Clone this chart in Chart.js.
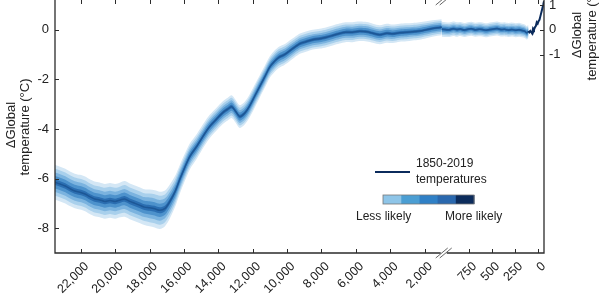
<!DOCTYPE html>
<html>
<head>
<meta charset="utf-8">
<script src="https://cdn.jsdelivr.net/npm/chart.js@4.4.0/dist/chart.umd.min.js"></script>
<style>
  html, body { margin: 0; padding: 0; background: #fff; }
  #wrap { width: 600px; height: 300px; }
</style>
</head>
<body>
<div id="wrap"><canvas id="tempChart" width="600" height="300"></canvas></div>
<script>
'use strict';

// reconstruction, 23,500 -> 1,000 years BP
const glacialYears = [23500, 23200, 22900, 22600, 22350, 22050, 21750, 21500, 21200, 20900,
  20600, 20300, 20000, 19700, 19450, 19150, 18850, 18550, 18300, 18000,
  17700, 17400, 17100, 16800, 16500, 16250, 15950, 15650, 15250, 14800,
  14500, 14100, 13750, 13450, 13220, 13000, 12750, 12450, 12200, 11900,
  11600, 11300, 11000, 10700, 10450, 10150, 9850, 9550, 9250, 8900,
  8500, 8100, 7700, 7300, 6950, 6600, 6200, 5800, 5350, 5000,
  4600, 4200, 3850, 3450, 3050, 2700, 2300, 1900, 1550, 1250, 1000];
const glacialTemps = [-6.15, -6.22, -6.30, -6.42, -6.50, -6.55, -6.62, -6.72, -6.82, -6.86,
  -6.92, -6.88, -6.92, -6.86, -6.82, -6.92, -7.00, -7.08, -7.15, -7.18,
  -7.22, -7.28, -7.20, -6.90, -6.50, -6.05, -5.55, -5.10, -4.70, -4.20,
  -3.90, -3.60, -3.35, -3.20, -3.10, -3.28, -3.50, -3.35, -3.10, -2.70,
  -2.30, -1.90, -1.50, -1.25, -1.10, -1.00, -0.85, -0.70, -0.56, -0.48,
  -0.40, -0.36, -0.30, -0.22, -0.15, -0.10, -0.10, -0.06, -0.08, -0.14,
  -0.20, -0.14, -0.16, -0.12, -0.10, -0.08, -0.05, 0.00, 0.05, 0.08, 0.10];
const glacialSpread = [0.70, 0.70, 0.70, 0.70, 0.70, 0.70, 0.70, 0.70, 0.70, 0.70,
  0.70, 0.70, 0.70, 0.70, 0.72, 0.72, 0.72, 0.72, 0.72, 0.74,
  0.75, 0.75, 0.72, 0.68, 0.62, 0.58, 0.55, 0.52, 0.50, 0.48,
  0.47, 0.46, 0.46, 0.46, 0.46, 0.46, 0.46, 0.46, 0.46, 0.46,
  0.45, 0.44, 0.43, 0.43, 0.43, 0.42, 0.42, 0.41, 0.41, 0.41,
  0.40, 0.40, 0.40, 0.40, 0.40, 0.40, 0.40, 0.39, 0.39, 0.38,
  0.38, 0.38, 0.37, 0.36, 0.36, 0.35, 0.35, 0.34, 0.33, 0.32, 0.32];

// last millennium, 1,000 -> 100 years BP
const recentYears = [1000, 960, 920, 880, 840, 800, 760, 720, 680, 640,
  600, 560, 520, 480, 440, 400, 360, 320, 280, 240,
  200, 170, 140, 120, 100];
const recentTemps = [0.02, 0.00, 0.04, 0.01, 0.03, -0.01, 0.02, 0.04, 0.00, 0.02,
  0.01, -0.02, 0.01, 0.03, 0.05, 0.01, 0.02, -0.01, 0.01, -0.02,
  0.00, -0.03, -0.06, -0.12, -0.08];
const recentSpread = [0.30, 0.29, 0.29, 0.29, 0.28, 0.28, 0.28, 0.28, 0.28, 0.28,
  0.28, 0.28, 0.28, 0.28, 0.28, 0.28, 0.28, 0.28, 0.28, 0.28,
  0.28, 0.27, 0.27, 0.27, 0.27];

// 1850-2019 temperatures, years BP
const obsYears = [100, 90, 80, 70, 60, 50, 40, 30, 20, 10, 0, -10, -20, -30, -40, -50, -60, -69];
const obsTemps = [-0.05, -0.10, -0.05, -0.10, -0.15, 0.05, 0.00, 0.10, 0.15, 0.30,
  0.25, 0.35, 0.40, 0.55, 0.70, 0.85, 1.00, 1.15];

const xTickYears = [22000, 20000, 18000, 16000, 14000, 12000, 10000, 8000, 6000, 4000, 2000,
  750, 500, 250, 0];
const leftTicks = [-8, -6, -4, -2, 0];
const rightTicks = [-1, 0, 1];

const bandLevels = [1, 0.78, 0.56, 0.36, 0.16];
const bandColors = ['#d4e7f5', '#a9d0ec', '#7bb3df', '#4d92cc', '#2b6eb1'];
const scaleColors = ['#8ec5e8', '#4b9ed3', '#2f80c6', '#2a68ae', '#0c2c5c'];

const FONT = '"Liberation Sans", Arial, Helvetica, sans-serif';
const INK = '#222222';

// broken time axis: 23,500-1,000 BP on one scale, last millennium stretched
const BREAK_YR = 1000;
const toAxis = function (yr) {
  if (yr >= BREAK_YR) return (23500 - yr) * 0.0172;
  return 391 + (BREAK_YR - yr) * 0.092;
};
const BREAK_U = 389;

const datasets = [];

const addSegment = function (years, temps, spread) {
  bandLevels.forEach(function (lvl, i) {
    datasets.push({
      data: years.map((yr, j) => ({ x: toAxis(yr), y: temps[j] + lvl * spread[j] })),
      backgroundColor: bandColors[i],
      borderColor: 'rgba(0,0,0,0)',
      borderWidth: 0,
      pointRadius: 0,
      tension: 0.3,
      fill: '+1',
      order: 20 - i
    });
    datasets.push({
      data: years.map((yr, j) => ({ x: toAxis(yr), y: temps[j] - lvl * spread[j] })),
      borderColor: 'rgba(0,0,0,0)',
      borderWidth: 0,
      pointRadius: 0,
      tension: 0.3,
      fill: false,
      order: 20 - i
    });
  });
  datasets.push({
    data: years.map((yr, j) => ({ x: toAxis(yr), y: temps[j] })),
    borderColor: '#1d5796',
    borderWidth: 1.5,
    pointRadius: 0,
    tension: 0.3,
    fill: false,
    order: 5
  });
};

addSegment(glacialYears, glacialTemps, glacialSpread);
addSegment(recentYears, recentTemps, recentSpread);

datasets.push({
  data: obsYears.map((yr, j) => ({ x: toAxis(yr), y: obsTemps[j] })),
  borderColor: '#0b2b5c',
  borderWidth: 2,
  pointRadius: 0,
  tension: 0,
  fill: false,
  order: 1
});

const tickLabel = {};
xTickYears.forEach(function (yr) {
  tickLabel[toAxis(yr).toFixed(3)] = yr.toLocaleString('en-US');
});

// axes box, inward ticks, break marks, titles and legend
const frame = {
  id: 'frame',
  afterDraw(chart) {
    const ctx = chart.ctx;
    const a = chart.chartArea;
    const sx = chart.scales.x, sy = chart.scales.y, sy2 = chart.scales.y2;
    const bx = sx.getPixelForValue(BREAK_U);

    ctx.save();
    ctx.strokeStyle = '#2b2b2b';
    ctx.lineWidth = 1.3;
    ctx.beginPath();
    ctx.moveTo(a.left, a.top);
    ctx.lineTo(a.left, a.bottom);
    ctx.lineTo(bx - 3, a.bottom);
    ctx.moveTo(bx + 3, a.bottom);
    ctx.lineTo(a.right, a.bottom);
    ctx.lineTo(a.right, a.top);
    ctx.stroke();

    ctx.lineWidth = 1;
    ctx.beginPath();
    xTickYears.forEach(function (yr) {
      const px = Math.round(sx.getPixelForValue(toAxis(yr))) + 0.5;
      ctx.moveTo(px, a.bottom);
      ctx.lineTo(px, a.bottom - 4);
      ctx.moveTo(px, a.top);
      ctx.lineTo(px, a.top + 4);
    });
    leftTicks.forEach(function (v) {
      const py = Math.round(sy.getPixelForValue(v)) + 0.5;
      ctx.moveTo(a.left, py);
      ctx.lineTo(a.left + 4, py);
    });
    rightTicks.forEach(function (v) {
      const py = Math.round(sy2.getPixelForValue(v)) + 0.5;
      ctx.moveTo(a.right, py);
      ctx.lineTo(a.right - 4, py);
    });
    ctx.stroke();

    // "//" break on bottom and top
    [a.bottom, a.top].forEach(function (yb) {
      ctx.beginPath();
      ctx.moveTo(bx - 8, yb + 5);
      ctx.lineTo(bx + 4, yb - 5);
      ctx.moveTo(bx - 4, yb + 5);
      ctx.lineTo(bx + 8, yb - 5);
      ctx.strokeStyle = '#555';
      ctx.lineWidth = 0.9;
      ctx.stroke();
    });

    // axis titles
    ctx.fillStyle = INK;
    ctx.font = '13px ' + FONT;
    ctx.textAlign = 'center';
    ctx.textBaseline = 'middle';
    const vtext = function (txt, x, y) {
      ctx.save();
      ctx.translate(x, y);
      ctx.rotate(-Math.PI / 2);
      ctx.fillText(txt, 0, 0);
      ctx.restore();
    };
    vtext('\u0394Global', 11, 125);
    vtext('temperature (\u00b0C)', 25, 127);
    vtext('\u0394Global', 577, 35);
    vtext('temperature (\u00b0C)', 592, 32);

    // legend
    ctx.strokeStyle = '#0b2b5c';
    ctx.lineWidth = 2;
    ctx.beginPath();
    ctx.moveTo(375, 172);
    ctx.lineTo(410, 172);
    ctx.stroke();
    ctx.font = '12px ' + FONT;
    ctx.textAlign = 'left';
    ctx.fillText('1850-2019', 416, 164);
    ctx.fillText('temperatures', 416, 180);

    const segW = 91 / scaleColors.length;
    scaleColors.forEach(function (c, i) {
      ctx.fillStyle = c;
      ctx.fillRect(383 + i * segW, 195, segW + 0.5, 9);
    });
    ctx.strokeStyle = '#777';
    ctx.lineWidth = 0.8;
    ctx.strokeRect(383, 195, 91, 9);

    ctx.fillStyle = INK;
    ctx.fillText('Less likely', 356, 217);
    ctx.fillText('More likely', 445, 217);
    ctx.restore();
  }
};

const ctx = document.getElementById('tempChart').getContext('2d');

const chart = new Chart(ctx, {
  type: 'line',
  data: { datasets: datasets },
  options: {
    responsive: false,
    animation: false,
    devicePixelRatio: 1,
    layout: { padding: 0 },
    plugins: {
      legend: { display: false },
      tooltip: { enabled: false }
    },
    scales: {
      x: {
        type: 'linear',
        position: 'bottom',
        min: 0,
        max: toAxis(-69),
        grid: { display: false, drawTicks: false },
        border: { display: false },
        afterBuildTicks: function (axis) {
          axis.ticks = xTickYears.map(yr => ({ value: toAxis(yr) }));
        },
        afterFit: function (axis) {
          axis.height = 47;
          axis.paddingLeft = 0;
          axis.paddingRight = 0;
        },
        ticks: {
          autoSkip: false,
          maxRotation: 45,
          minRotation: 45,
          padding: 6,
          labelOffset: 6,
          color: INK,
          font: { family: FONT, size: 12.5 },
          callback: function (value) {
            return tickLabel[Number(value).toFixed(3)] || '';
          }
        }
      },
      y: {
        position: 'left',
        min: -9,
        max: 1.2,
        grid: { display: false, drawTicks: false },
        border: { display: false },
        afterBuildTicks: function (axis) {
          axis.ticks = leftTicks.map(v => ({ value: v }));
        },
        afterFit: function (axis) {
          axis.width = 55;
          axis.paddingTop = 0;
          axis.paddingBottom = 0;
        },
        ticks: {
          padding: 6,
          color: INK,
          font: { family: FONT, size: 13 }
        }
      },
      y2: {
        position: 'right',
        min: -9,
        max: 1.2,
        grid: { display: false, drawTicks: false },
        border: { display: false },
        afterBuildTicks: function (axis) {
          axis.ticks = rightTicks.map(v => ({ value: v }));
        },
        afterFit: function (axis) {
          axis.width = 56;
          axis.paddingTop = 0;
          axis.paddingBottom = 0;
        },
        ticks: {
          padding: 5,
          color: INK,
          font: { family: FONT, size: 13 }
        }
      }
    }
  },
  plugins: [frame]
});
</script>
</body>
</html>
